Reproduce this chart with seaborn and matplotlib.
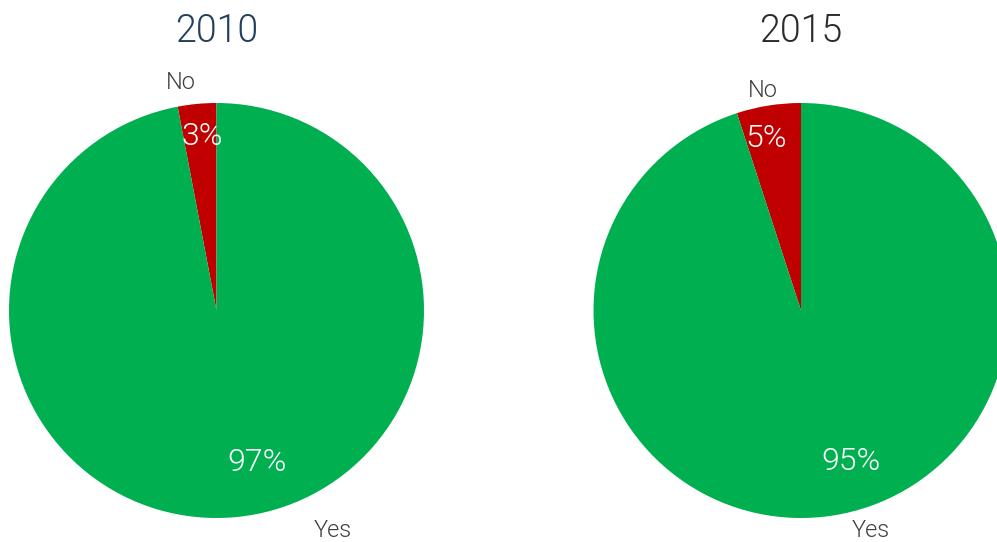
import matplotlib
matplotlib.use("Agg")
import matplotlib.pyplot as plt
import seaborn as sns

# Survey answers per year (percent)
years = ["2010", "2015"]
answers = ["No", "Yes"]
share_2010 = [3, 97]
share_2015 = [5, 95]
shares = [share_2010, share_2015]

sns.set_theme(style="white")
plt.rcParams["font.family"] = ["Roboto", "DejaVu Sans"]

colors = ["#C00000", "#00B050"]
title_colors = ["#22405C", "#2B2B2B"]

W, H = 997, 542
fig = plt.figure(figsize=(W / 100, H / 100), dpi=100)

radius_px = 207.5
centers_x = [216.5, 801.0]
center_y = 310.5

# label placements (in units of the pie radius) for category and percent texts
cat_pos = [[(-0.171, 1.111), (0.561, -1.048)], [(-0.183, 1.072), (0.337, -1.048)]]
pct_pos = [[(-0.07, 0.851), (0.195, -0.716)], [(-0.169, 0.841), (0.241, -0.711)]]

for i, (yr, vals) in enumerate(zip(years, shares)):
    cx = centers_x[i]
    ax = fig.add_axes([(cx - radius_px) / W, (H - center_y - radius_px) / H,
                       2 * radius_px / W, 2 * radius_px / H])
    wedges, texts, autotexts = ax.pie(
        vals, labels=answers, colors=colors, startangle=90, counterclock=True,
        autopct=lambda p: f"{p:.0f}%", radius=1,
        wedgeprops=dict(linewidth=0),
        textprops=dict(fontsize=17, color="#404040", fontweight=300),
    )
    for t, pos in zip(texts, cat_pos[i]):
        t.set_position(pos)
        t.set_ha("center")
        t.set_va("center_baseline")
    for t, pos in zip(autotexts, pct_pos[i]):
        t.set_position(pos)
        t.set_ha("center")
        t.set_va("center_baseline")
        t.set_color("white")
        t.set_fontsize(23)
    ax.set_xlim(-1, 1)
    ax.set_ylim(-1, 1)
    ax.set_aspect("equal")
    ax.axis("off")
    fig.text(cx / W, 1 - 27 / H, yr, ha="center", va="center_baseline", fontsize=27,
             color=title_colors[i], fontweight=300)

fig.savefig("out.png", dpi=100)
